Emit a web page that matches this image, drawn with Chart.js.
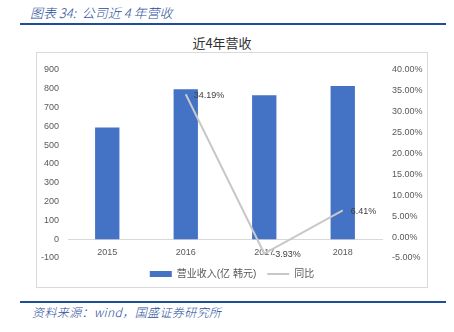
<!DOCTYPE html>
<html>
<head>
<meta charset="utf-8">
<script src="https://cdn.jsdelivr.net/npm/chart.js@4/dist/chart.umd.min.js"></script>
<style>
  html, body { margin: 0; padding: 0; background: #fff; }
  body { width: 454px; height: 332px; position: relative; overflow: hidden;
         font-family: "Liberation Sans", "Noto Sans CJK SC", sans-serif; }
  .cap { position: absolute; left: 30px; top: 3px; font-size: 13px; font-style: italic; font-weight: 300;
         color: #1f4e9a; font-family: "Noto Sans CJK SC", sans-serif; white-space: nowrap; }
  .rule { position: absolute; left: 20px; width: 426px; height: 2px; background: #1f4e99; }
  .title { position: absolute; left: 0; width: 444px; top: 33px; text-align: center;
           font-size: 13px; color: #333; font-family: "Noto Sans CJK SC", sans-serif; }
  .box { position: absolute; left: 36px; top: 52px; width: 390px; height: 234px;
         border: 1px solid #d9d9d9; }
  #wrap { position: absolute; left: 37px; top: 53px; width: 390px; height: 236px; }
  .src { position: absolute; left: 32px; top: 303px; font-size: 12px; font-style: italic; font-weight: 300;
         color: #1f4e9a; font-family: "Noto Sans CJK SC", sans-serif; white-space: nowrap; letter-spacing: 0.4px; }
</style>
</head>
<body>
<div class="cap">图表 34:&nbsp; 公司近 4 年营收</div>
<div class="rule" style="top:23px"></div>
<div class="title">近4年营收</div>
<div class="box"></div>
<div id="wrap"><canvas id="chart"></canvas></div>
<div class="rule" style="top:301px"></div>
<div class="src">资料来源：wind，国盛证券研究所</div>

<script>
var years = ["2015", "2016", "2017", "2018"];
var revenue = [594, 797, 766, 815];          // 营业收入(亿 韩元)
var growth = [null, 34.19, -3.93, 6.41];      // 同比, %
var leftTicks = { min: -100, max: 900, step: 100 };
var rightTicks = { min: -5, max: 40, step: 5 };

var tickFont = { family: "Liberation Sans", size: 9 };

// percent labels next to the growth line points
var growthLabels = {
  id: "growthLabels",
  afterDatasetsDraw: function(chart) {
    var meta = chart.getDatasetMeta(1);
    var ctx = chart.ctx;
    ctx.save();
    ctx.font = "9px 'Liberation Sans'";
    ctx.fillStyle = "#404040";
    ctx.textAlign = "left";
    ctx.textBaseline = "middle";
    meta.data.forEach(function(pt, i) {
      if (growth[i] === null) return;
      ctx.fillText(growth[i].toFixed(2) + "%", pt.x + 8, pt.y + 1);
    });
    ctx.restore();
  }
};

new Chart(document.getElementById("chart"), {
  type: "bar",
  data: {
    labels: years,
    datasets: [{
      label: "营业收入(亿 韩元)",
      data: revenue,
      backgroundColor: "#4472c4",
      yAxisID: "y",
      order: 1,
      pointStyle: "rect",
      barPercentage: 0.31,
      categoryPercentage: 1
    }, {
      type: "line",
      label: "同比",
      data: growth,
      borderColor: "#c8c8c8",
      backgroundColor: "#c8c8c8",
      borderWidth: 2,
      pointRadius: 0,
      pointStyle: "line",
      yAxisID: "y1",
      order: 0
    }]
  },
  options: {
    responsive: true,
    maintainAspectRatio: false,
    animation: false,
    layout: { padding: { top: 17, left: 0, right: 0, bottom: 0 } },
    plugins: {
      legend: {
        position: "bottom",
        labels: {
          usePointStyle: true,
          pointStyleWidth: 22,
          boxHeight: 6,
          padding: 11,
          color: "#595959",
          font: { family: "'Liberation Sans', 'Noto Sans CJK SC'", size: 10 },
          sort: function(a, b) { return a.datasetIndex - b.datasetIndex; }
        }
      },
      tooltip: { enabled: false }
    },
    scales: {
      x: {
        position: { y: 0 },
        grid: { display: false, drawTicks: false },
        border: { display: true, color: "#d9d9d9", width: 1 },
        ticks: { color: "#595959", font: tickFont, padding: 8 }
      },
      y: {
        position: "left",
        min: leftTicks.min,
        max: leftTicks.max,
        grid: { display: false, drawTicks: false },
        border: { display: false },
        ticks: { stepSize: leftTicks.step, color: "#595959", font: tickFont, padding: 9 },
        afterFit: function(s) { s.width = 31; }
      },
      y1: {
        position: "right",
        min: rightTicks.min,
        max: rightTicks.max,
        grid: { display: false, drawTicks: false },
        border: { display: false },
        ticks: {
          stepSize: rightTicks.step, color: "#595959", font: tickFont, padding: 10,
          callback: function(v) { return v.toFixed(2) + "%"; }
        },
        afterFit: function(s) { s.width = 45; }
      }
    }
  },
  plugins: [growthLabels]
});
</script>
</body>
</html>
